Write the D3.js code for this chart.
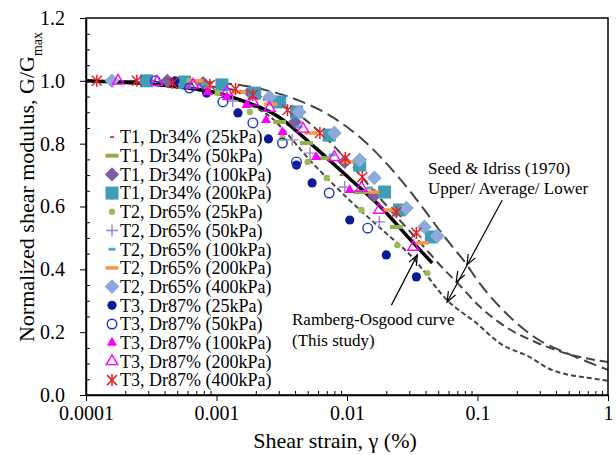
<!DOCTYPE html>
<html>
<head>
<meta charset="utf-8">
<script src="https://cdn.jsdelivr.net/npm/d3@7"></script>
<style>
  body { margin: 0; background: #fff; }
  text { font-family: "Liberation Serif", "Times New Roman", serif; fill: #000; }
</style>
</head>
<body>
<div id="chart"></div>
<script>
// ---- data: [shear strain %, G/Gmax] ----
var t1_25  = [[0.00048, 0.99], [0.00234, 0.94], [0.0091, 0.70]];
var t1_50  = [[0.00305, 0.869], [0.0049, 0.802], [0.0067, 0.754], [0.0125, 0.646], [0.0239, 0.535]];
var t1_100 = [[0.00042, 1.0], [0.00079, 0.993], [0.0018, 0.964], [0.0040, 0.869], [0.0096, 0.742], [0.0162, 0.635]];
var t1_200 = [[0.00029, 1.0], [0.00057, 0.996], [0.0011, 0.987], [0.00196, 0.961], [0.00305, 0.933], [0.0041, 0.901],
              [0.0073, 0.827], [0.0125, 0.732], [0.0194, 0.646], [0.0252, 0.589], [0.0443, 0.503]];
var t2_25  = [[0.00062, 1.0], [0.00102, 0.961], [0.0018, 0.901], [0.0032, 0.818], [0.0050, 0.742], [0.0070, 0.691],
              [0.0129, 0.589], [0.0243, 0.477], [0.0413, 0.388]];
var t2_50  = [[0.00133, 0.936], [0.0038, 0.812], [0.0052, 0.77], [0.0096, 0.662], [0.0177, 0.551]];
var t2_100 = [[0.00081, 0.99], [0.0043, 0.853], [0.0077, 0.764], [0.0149, 0.659]];
var t2_200 = [[0.00071, 1.0], [0.0015, 0.964], [0.0026, 0.926], [0.0053, 0.834], [0.0101, 0.742], [0.0157, 0.646],
              [0.0211, 0.589], [0.0378, 0.484]];
var t2_400 = [[0.000158, 1.0], [0.00255, 0.948], [0.0043, 0.901], [0.008, 0.834], [0.0125, 0.748], [0.0162, 0.691],
              [0.0285, 0.595], [0.0392, 0.535], [0.0492, 0.506]];
var t3_25  = [[0.00048, 1.0], [0.00084, 0.961], [0.00146, 0.898], [0.0025, 0.815], [0.0041, 0.732], [0.0054, 0.675],
              [0.0105, 0.557], [0.020, 0.446], [0.034, 0.376]];
var t3_50  = [[0.00034, 1.0], [0.00062, 0.977], [0.00112, 0.933], [0.0019, 0.866], [0.0032, 0.802], [0.0041, 0.742],
              [0.0073, 0.643], [0.0144, 0.531]];
var t3_100 = [[0.000857, 0.964], [0.0012, 0.948], [0.0017, 0.923], [0.0024, 0.875], [0.0032, 0.837], [0.0058, 0.757],
              [0.0105, 0.652]];
var t3_200 = [[0.000176, 1.0], [0.00035, 0.996], [0.00066, 0.987], [0.0012, 0.964], [0.0019, 0.933], [0.00255, 0.913],
              [0.0046, 0.847], [0.008, 0.757], [0.0129, 0.659], [0.0177, 0.589], [0.0323, 0.471]];
var t3_400 = [[0.000121, 1.0], [0.000245, 1.0], [0.00046, 0.993], [0.00089, 0.987], [0.0014, 0.974], [0.0019, 0.955],
              [0.0035, 0.907], [0.0062, 0.834], [0.0097, 0.754], [0.0131, 0.694], [0.0239, 0.582], [0.034, 0.516]];

// reference curves
var seedUpper = [[1e-4, 1], [5e-4, 0.998], [0.0013, 0.99], [0.0025, 0.968], [0.0043, 0.937], [0.0077, 0.885],
                 [0.0141, 0.802], [0.0223, 0.716], [0.0378, 0.598], [0.051, 0.525], [0.058, 0.495], [0.083, 0.414],
                 [0.098, 0.37], [0.165, 0.261], [0.296, 0.175], [0.478, 0.134], [1, 0.08]];
var seedAverage = [[1e-4, 1], [4e-4, 0.995], [0.001, 0.98], [0.002, 0.955], [0.004, 0.9], [0.007, 0.815],
                   [0.0104, 0.74], [0.018, 0.625], [0.036, 0.487], [0.058, 0.391], [0.069, 0.36], [0.103, 0.283],
                   [0.175, 0.21], [0.28, 0.168], [0.5, 0.13], [1, 0.105]];
var seedLower = [[1e-4, 1], [2.6e-4, 0.993], [5.2e-4, 0.977], [9.4e-4, 0.961], [0.00143, 0.939], [0.0024, 0.895],
                 [0.0058, 0.726], [0.0104, 0.621], [0.0187, 0.525], [0.0316, 0.439], [0.0585, 0.302], [0.098, 0.229],
                 [0.147, 0.166], [0.25, 0.121], [0.37, 0.08], [0.91, 0.048], [1, 0.045]];
var rambergOsgood = [[1e-4, 1], [3e-4, 0.99], [6e-4, 0.978], [0.001, 0.962], [0.0015, 0.94], [0.003, 0.885],
                     [0.0058, 0.785], [0.0104, 0.69], [0.018, 0.6], [0.029, 0.505], [0.045, 0.42]];

var seriesNames = ["T1, Dr34% (25kPa)", "T1, Dr34% (50kPa)", "T1, Dr34% (100kPa)", "T1, Dr34% (200kPa)",
                   "T2, Dr65% (25kPa)", "T2, Dr65% (50kPa)", "T2, Dr65% (100kPa)", "T2, Dr65% (200kPa)",
                   "T2, Dr65% (400kPa)", "T3, Dr87% (25kPa)", "T3, Dr87% (50kPa)", "T3, Dr87% (100kPa)",
                   "T3, Dr87% (200kPa)", "T3, Dr87% (400kPa)"];
var seriesData = [t1_25, t1_50, t1_100, t1_200, t2_25, t2_50, t2_100, t2_200, t2_400,
                  t3_25, t3_50, t3_100, t3_200, t3_400];

var xTickValues = [1e-4, 1e-3, 1e-2, 1e-1, 1];
var xTickLabels = ["0.0001", "0.001", "0.01", "0.1", "1"];
var yTickValues = [0, 0.2, 0.4, 0.6, 0.8, 1.0, 1.2];

// ---- marker styles, one per series ----
var markerStyles = [
    {type: "dash", w: 4, h: 2, color: "#c0504d"},
    {type: "dash", w: 13, h: 4, color: "#8fb04c"},
    {type: "diamond", s: 10, color: "#7b5fa0"},
    {type: "square", s: 13, color: "#3f9db7"},
    {type: "dot", r: 3.2, color: "#9bbb59"},
    {type: "plus", s: 12, color: "#9a86cc"},
    {type: "dash", w: 7, h: 3, color: "#4bacc6"},
    {type: "dash", w: 13, h: 3.5, color: "#f79646"},
    {type: "diamond", s: 10.5, color: "#8eaadb"},
    {type: "dot", r: 4.6, color: "#0b1b94"},
    {type: "ring", r: 4.8, color: "#2233c8"},
    {type: "tri", s: 45, color: "#ff00ff"},
    {type: "tritri", s: 55, color: "#ff00ff"},
    {type: "star", s: 5, color: "#e3242b"}
];

var W = 616, H = 455;
var plotL = 86, plotR = 608, plotT = 18, plotB = 395;

var svg = d3.select("#chart").append("svg")
    .attr("width", W)
    .attr("height", H);

var x = d3.scaleLog().domain([1e-4, 1]).range([plotL, plotR]);
var y = d3.scaleLinear().domain([0, 1.2]).range([plotB, plotT]);

function drawMarker(g, st) {
    if (st.type == "dash") {
        g.append("rect").attr("x", -st.w / 2).attr("y", -st.h / 2)
            .attr("width", st.w).attr("height", st.h).attr("fill", st.color);
    } else if (st.type == "diamond") {
        g.append("rect").attr("x", -st.s / 2).attr("y", -st.s / 2)
            .attr("width", st.s).attr("height", st.s)
            .attr("transform", "rotate(45)").attr("fill", st.color);
    } else if (st.type == "square") {
        g.append("rect").attr("x", -st.s / 2).attr("y", -st.s / 2)
            .attr("width", st.s).attr("height", st.s).attr("fill", st.color);
    } else if (st.type == "dot") {
        g.append("circle").attr("r", st.r).attr("fill", st.color);
    } else if (st.type == "ring") {
        g.append("circle").attr("r", st.r).attr("fill", "none")
            .attr("stroke", st.color).attr("stroke-width", 1.4);
    } else if (st.type == "tri") {
        g.append("path").attr("d", d3.symbol(d3.symbolTriangle, st.s)())
            .attr("fill", st.color);
    } else if (st.type == "tritri") {
        g.append("path").attr("d", d3.symbol(d3.symbolTriangle, st.s)())
            .attr("fill", "none").attr("stroke", st.color).attr("stroke-width", 1.4);
    } else if (st.type == "plus") {
        var h = st.s / 2;
        g.append("path").attr("d", "M" + (-h) + ",0H" + h + "M0," + (-h) + "V" + h)
            .attr("stroke", st.color).attr("stroke-width", 1.4);
    } else if (st.type == "star") {
        var a = st.s;
        g.append("path")
            .attr("d", "M" + (-a) + "," + (-a) + "L" + a + "," + a +
                       "M" + (-a) + "," + a + "L" + a + "," + (-a) +
                       "M0," + (-a - 1) + "V" + (a + 1))
            .attr("stroke", st.color).attr("stroke-width", 1.5);
    }
}

// ---- reference curves ----
var line = d3.line()
    .x(function(d) { return x(d[0]); })
    .y(function(d) { return y(d[1]); })
    .curve(d3.curveMonotoneX);

var curves = svg.append("g");
curves.append("path").datum(seedUpper).attr("d", line)
    .attr("fill", "none").attr("stroke", "#444").attr("stroke-width", 2)
    .attr("stroke-dasharray", "13,6");
curves.append("path").datum(seedAverage).attr("d", line)
    .attr("fill", "none").attr("stroke", "#444").attr("stroke-width", 2)
    .attr("stroke-dasharray", "9,5");
curves.append("path").datum(seedLower).attr("d", line)
    .attr("fill", "none").attr("stroke", "#444").attr("stroke-width", 2)
    .attr("stroke-dasharray", "5,3");
curves.append("path").datum(rambergOsgood).attr("d", line)
    .attr("fill", "none").attr("stroke", "#000").attr("stroke-width", 3.5);

// ---- data points ----
seriesData.forEach(function(data, i) {
    svg.append("g").selectAll("g")
        .data(data)
        .enter()
        .append("g")
        .attr("transform", function(d) { return "translate(" + x(d[0]) + "," + y(d[1]) + ")"; })
        .each(function() { drawMarker(d3.select(this), markerStyles[i]); });
});

// ---- axes ----
var xMinor = [];
for (var e = -4; e < 0; e++) {
    for (var k = 2; k <= 9; k++) xMinor.push(k * Math.pow(10, e));
}
var yMinor = d3.range(0, 1.2001, 0.05).filter(function(v) { return Math.abs(v * 5 - Math.round(v * 5)) > 1e-6; });

svg.append("g")
    .attr("transform", "translate(0," + plotB + ")")
    .call(d3.axisBottom(x).tickValues(xMinor).tickSize(-4).tickFormat(""))
    .call(function(g) { g.select(".domain").remove(); g.selectAll("line").attr("stroke-width", 1); });

svg.append("g")
    .attr("transform", "translate(" + plotL + ",0)")
    .call(d3.axisLeft(y).tickValues(yMinor).tickSize(-4).tickFormat(""))
    .call(function(g) { g.select(".domain").remove(); g.selectAll("line").attr("stroke-width", 1); });

var xAxis = svg.append("g")
    .attr("transform", "translate(0," + plotB + ")")
    .call(d3.axisBottom(x).tickValues(xTickValues).tickSize(6).tickSizeOuter(0).tickPadding(5)
        .tickFormat(function(d, i) { return xTickLabels[i]; }));
xAxis.selectAll("text").style("font-size", "20px").attr("fill", "#000");
xAxis.select(".domain").attr("stroke-width", 1.5);

var yAxis = svg.append("g")
    .attr("transform", "translate(" + plotL + ",0)")
    .call(d3.axisLeft(y).tickValues(yTickValues).tickSize(6).tickSizeOuter(0).tickPadding(15)
        .tickFormat(d3.format(".1f")));
yAxis.selectAll("text").style("font-size", "20px").attr("fill", "#000");
yAxis.select(".domain").attr("stroke-width", 1.5);

// box
svg.append("rect")
    .attr("x", plotL).attr("y", plotT)
    .attr("width", plotR - plotL).attr("height", plotB - plotT)
    .attr("fill", "none").attr("stroke", "#000").attr("stroke-width", 1.5);

// axis titles
svg.append("text")
    .attr("x", 335).attr("y", 448)
    .attr("text-anchor", "middle")
    .style("font-size", "22px")
    .text("Shear strain, γ (%)");

var yTitle = svg.append("text")
    .attr("transform", "translate(34,187) rotate(-90)")
    .attr("text-anchor", "middle")
    .style("font-size", "22px");
yTitle.append("tspan").text("Normalized shear modulus, G/G");
yTitle.append("tspan").attr("baseline-shift", "sub").style("font-size", "14px").text("max");

// ---- legend ----
var legend = svg.append("g");
seriesNames.forEach(function(name, i) {
    var row = legend.append("g").attr("transform", "translate(112," + (137 + i * 18.7) + ")");
    drawMarker(row, markerStyles[i]);
    row.append("text").attr("x", 8).attr("dy", "0.35em")
        .style("font-size", "18px").text(name);
});

// ---- annotations ----
function arrowHead(g, tip, from) {
    var ang = Math.atan2(tip[1] - from[1], tip[0] - from[0]);
    var len = 11, spread = 0.38;
    var p1 = [tip[0] - len * Math.cos(ang - spread), tip[1] - len * Math.sin(ang - spread)];
    var p2 = [tip[0] - len * Math.cos(ang + spread), tip[1] - len * Math.sin(ang + spread)];
    g.append("path")
        .attr("d", "M" + p1 + "L" + tip + "L" + p2)
        .attr("fill", "none").attr("stroke", "#000").attr("stroke-width", 1.2);
}

var ann = svg.append("g");
ann.append("text").attr("x", 428).attr("y", 174).style("font-size", "17px").text("Seed & Idriss (1970)");
ann.append("text").attr("x", 428).attr("y", 194).style("font-size", "17px").text("Upper/ Average/ Lower");
ann.append("text").attr("x", 292).attr("y", 325).style("font-size", "17px").text("Ramberg-Osgood curve");
ann.append("text").attr("x", 292).attr("y", 346).style("font-size", "17px").text("(This study)");

// Seed & Idriss arrow: one leader, heads on each curve
var sStart = [x(0.1545), y(0.62)];
var sTips = [[0.083, 0.414], [0.0687, 0.36], [0.0585, 0.296]];
var lastTip = [x(sTips[2][0]), y(sTips[2][1])];
ann.append("line")
    .attr("x1", sStart[0]).attr("y1", sStart[1])
    .attr("x2", lastTip[0]).attr("y2", lastTip[1])
    .attr("stroke", "#000").attr("stroke-width", 1.2);
sTips.forEach(function(t) {
    arrowHead(ann, [x(t[0]), y(t[1])], sStart);
});

// Ramberg-Osgood arrow
var rStart = [x(0.0219), y(0.286)];
var rTip = [x(0.0346), y(0.446)];
ann.append("line")
    .attr("x1", rStart[0]).attr("y1", rStart[1])
    .attr("x2", rTip[0]).attr("y2", rTip[1])
    .attr("stroke", "#000").attr("stroke-width", 1.2);
arrowHead(ann, rTip, rStart);
</script>
</body>
</html>
